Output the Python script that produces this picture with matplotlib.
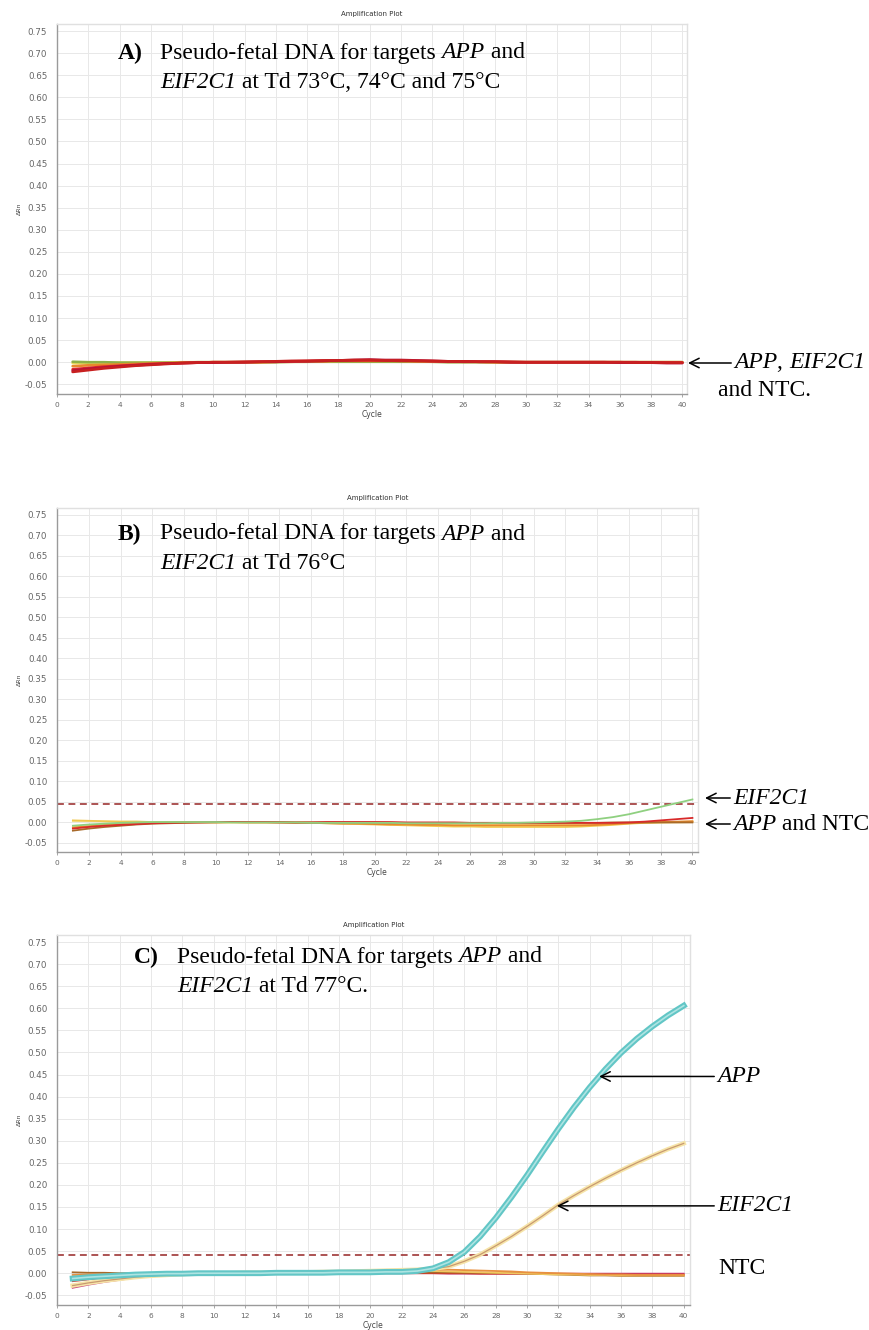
import numpy as np
import matplotlib
matplotlib.use("Agg")
import matplotlib.pyplot as plt

plt.rcParams["font.family"] = ["Liberation Serif", "DejaVu Serif"]

# qPCR amplification data, delta Rn per cycle (cycles 1..40)
CYCLES = list(range(1, 41))

# A) Td 73/74/75 C - nothing amplifies
a_dark_red = [-0.022, -0.018, -0.014, -0.011, -0.008, -0.006, -0.004, -0.002, -0.001, 0.000,
              0.000, 0.001, 0.001, 0.002, 0.003, 0.003, 0.004, 0.004, 0.005, 0.005,
              0.004, 0.004, 0.003, 0.003, 0.002, 0.002, 0.001, 0.001, 0.001, 0.000,
              0.000, 0.000, 0.000, 0.000, 0.000, 0.000, -0.001, -0.001, -0.001, -0.001]
a_red = [-0.016, -0.013, -0.010, -0.008, -0.006, -0.004, -0.003, -0.002, -0.001, 0.000,
         0.000, 0.000, 0.001, 0.001, 0.002, 0.003, 0.003, 0.004, 0.004, 0.004,
         0.004, 0.003, 0.003, 0.002, 0.002, 0.001, 0.001, 0.001, 0.000, 0.000,
         0.000, 0.000, 0.000, 0.000, 0.000, 0.000, 0.000, -0.001, -0.001, -0.001]
a_crimson = [-0.019, -0.015, -0.012, -0.009, -0.007, -0.005, -0.003, -0.002, -0.001, -0.001,
             0.000, 0.000, 0.001, 0.001, 0.002, 0.002, 0.003, 0.004, 0.005, 0.006,
             0.005, 0.005, 0.004, 0.003, 0.002, 0.002, 0.001, 0.001, 0.000, 0.000,
             0.000, 0.000, 0.000, 0.000, 0.000, -0.001, -0.001, -0.001, -0.002, -0.002]
a_yellow = [-0.002, -0.002, -0.002, -0.001, -0.001, -0.001, -0.001, 0.000, 0.000, 0.000,
            0.000, 0.000, 0.000, 0.001, 0.001, 0.001, 0.002, 0.002, 0.002, 0.002,
            0.002, 0.002, 0.002, 0.001, 0.001, 0.001, 0.001, 0.000, 0.000, 0.000,
            0.000, 0.000, 0.000, 0.000, 0.000, 0.000, 0.000, 0.000, 0.000, 0.000]
a_green = [0.001, 0.000, 0.000, -0.001, -0.001, -0.001, -0.001, -0.001, 0.000, 0.000,
           0.000, 0.000, 0.000, 0.000, 0.001, 0.001, 0.001, 0.001, 0.001, 0.001,
           0.001, 0.001, 0.001, 0.001, 0.000, 0.000, 0.000, 0.000, 0.000, 0.000,
           0.000, 0.000, 0.000, 0.000, 0.000, 0.000, 0.000, 0.000, 0.000, 0.000]
a_orange = [-0.009, -0.007, -0.006, -0.005, -0.004, -0.003, -0.002, -0.001, -0.001, 0.000,
            0.000, 0.000, 0.000, 0.001, 0.001, 0.002, 0.002, 0.003, 0.003, 0.003,
            0.003, 0.003, 0.002, 0.002, 0.001, 0.001, 0.001, 0.000, 0.000, 0.000,
            0.000, 0.000, 0.000, 0.000, 0.000, 0.000, 0.000, 0.000, 0.000, 0.000]

# B) Td 76 C - EIF2C1 only starts to come up late
b_green = [-0.008, -0.005, -0.003, -0.001, 0.000, 0.001, 0.001, 0.001, 0.001, 0.001,
           0.000, 0.000, 0.000, 0.000, 0.000, -0.001, -0.001, -0.001, -0.001, -0.001,
           -0.001, -0.002, -0.002, -0.002, -0.002, -0.002, -0.002, -0.001, -0.001, 0.000,
           0.001, 0.002, 0.004, 0.008, 0.013, 0.020, 0.029, 0.038, 0.047, 0.056]
b_yellow = [0.005, 0.004, 0.003, 0.002, 0.002, 0.001, 0.001, 0.001, 0.000, 0.000,
            0.000, 0.000, 0.000, 0.000, 0.000, -0.001, -0.002, -0.003, -0.004, -0.005,
            -0.006, -0.007, -0.008, -0.009, -0.010, -0.010, -0.011, -0.011, -0.011, -0.011,
            -0.011, -0.011, -0.010, -0.008, -0.006, -0.003, -0.001, 0.000, 0.001, 0.002]
b_orange = [-0.012, -0.009, -0.006, -0.004, -0.002, -0.001, 0.000, 0.000, 0.001, 0.001,
            0.001, 0.000, 0.000, 0.000, -0.001, -0.001, -0.002, -0.003, -0.003, -0.004,
            -0.005, -0.005, -0.006, -0.006, -0.007, -0.007, -0.007, -0.007, -0.007, -0.007,
            -0.007, -0.007, -0.007, -0.006, -0.004, -0.002, 0.000, 0.001, 0.002, 0.003]
b_red = [-0.015, -0.011, -0.008, -0.006, -0.004, -0.002, -0.001, 0.000, 0.000, 0.001,
         0.001, 0.001, 0.001, 0.000, 0.000, 0.000, 0.001, 0.001, 0.001, 0.001,
         0.001, 0.000, 0.000, 0.000, 0.000, -0.001, -0.001, -0.001, -0.001, -0.001,
         -0.001, -0.001, -0.001, -0.001, -0.001, 0.000, 0.002, 0.005, 0.008, 0.011]
b_brown = [-0.020, -0.015, -0.011, -0.008, -0.005, -0.003, -0.002, -0.001, 0.000, 0.000,
           0.001, 0.001, 0.001, 0.001, 0.000, 0.000, 0.000, 0.000, 0.000, 0.000,
           -0.001, -0.001, -0.001, -0.001, -0.001, -0.001, -0.001, -0.001, -0.001, -0.001,
           -0.001, -0.001, -0.001, -0.001, 0.000, 0.000, 0.000, 0.000, 0.000, 0.000]
b_pale = [0.003, 0.003, 0.002, 0.002, 0.002, 0.001, 0.001, 0.001, 0.001, 0.000,
          0.000, 0.000, 0.000, 0.000, 0.000, 0.000, 0.000, -0.001, -0.001, -0.002,
          -0.002, -0.003, -0.003, -0.004, -0.004, -0.005, -0.005, -0.005, -0.005, -0.005,
          -0.005, -0.005, -0.005, -0.004, -0.003, -0.002, -0.001, 0.000, 0.000, 0.001]

# C) Td 77 C - both targets amplify
c_app = [-0.012, -0.009, -0.007, -0.005, -0.003, -0.002, -0.001, -0.001, 0.000, 0.000,
         0.000, 0.000, 0.000, 0.001, 0.001, 0.001, 0.001, 0.002, 0.002, 0.002,
         0.003, 0.003, 0.005, 0.011, 0.025, 0.048, 0.083, 0.125, 0.172, 0.222,
         0.275, 0.327, 0.376, 0.421, 0.462, 0.499, 0.531, 0.559, 0.584, 0.606]
c_eif = [-0.028, -0.022, -0.017, -0.013, -0.009, -0.006, -0.004, -0.002, -0.001, 0.000,
         0.000, 0.001, 0.001, 0.001, 0.002, 0.002, 0.003, 0.003, 0.004, 0.005,
         0.006, 0.007, 0.008, 0.010, 0.015, 0.027, 0.042, 0.062, 0.083, 0.106,
         0.130, 0.155, 0.176, 0.196, 0.215, 0.233, 0.250, 0.266, 0.281, 0.294]
c_ntc_orange = [-0.004, -0.003, -0.003, -0.002, -0.002, -0.001, -0.001, 0.000, 0.000, 0.000,
                0.000, 0.001, 0.001, 0.001, 0.002, 0.002, 0.003, 0.003, 0.004, 0.005,
                0.006, 0.007, 0.008, 0.008, 0.008, 0.007, 0.006, 0.005, 0.004, 0.002,
                0.001, 0.000, -0.001, -0.002, -0.003, -0.003, -0.004, -0.004, -0.004, -0.004]
c_ntc_brown = [0.002, 0.001, 0.001, 0.000, 0.000, 0.000, 0.000, 0.000, 0.000, 0.000,
               0.000, 0.000, 0.001, 0.001, 0.001, 0.001, 0.001, 0.001, 0.001, 0.002,
               0.002, 0.002, 0.002, 0.002, 0.002, 0.001, 0.001, 0.000, 0.000, -0.001,
               -0.002, -0.003, -0.004, -0.005, -0.005, -0.006, -0.006, -0.006, -0.006, -0.006]
c_ntc_red = [-0.018, -0.014, -0.010, -0.007, -0.005, -0.003, -0.002, -0.001, 0.000, 0.000,
             0.000, 0.001, 0.001, 0.001, 0.001, 0.001, 0.001, 0.001, 0.000, 0.000,
             0.000, 0.000, 0.000, 0.000, 0.000, 0.000, -0.001, -0.001, -0.001, -0.001,
             -0.002, -0.002, -0.002, -0.003, -0.003, -0.003, -0.003, -0.003, -0.003, -0.003]
c_ntc_magenta = [-0.033, -0.026, -0.020, -0.015, -0.010, -0.007, -0.005, -0.003, -0.002, -0.001,
                 0.000, 0.000, 0.000, 0.000, 0.000, 0.000, 0.000, 0.000, 0.000, 0.000,
                 0.000, 0.000, 0.000, 0.000, -0.001, -0.001, -0.001, -0.001, -0.001, -0.001,
                 -0.001, -0.001, -0.001, -0.001, -0.001, -0.001, -0.001, -0.001, -0.001, -0.001]
c_ntc_yellow = [-0.010, -0.008, -0.006, -0.004, -0.003, -0.002, -0.001, -0.001, 0.000, 0.000,
                0.000, 0.000, 0.001, 0.001, 0.001, 0.002, 0.002, 0.003, 0.003, 0.004,
                0.004, 0.005, 0.005, 0.005, 0.004, 0.003, 0.002, 0.001, 0.000, -0.001,
                -0.002, -0.003, -0.003, -0.004, -0.004, -0.005, -0.005, -0.005, -0.005, -0.005]

THRESHOLD_B = 0.045
THRESHOLD_C = 0.041

Y_TICKS = [round(-0.05 + 0.05 * i, 2) for i in range(17)]
X_TICKS = list(range(0, 41, 2))

W, H = 870, 1330
FS = 17


def px(x, y):
    # figure pixel (from top-left) -> figure fraction
    return (x / W, 1 - y / H)


def style_axes(ax, xmax):
    ax.set_xlim(0, xmax)
    ax.set_ylim(-0.072, 0.766)
    ax.set_yticks(Y_TICKS)
    ax.set_yticklabels([f"{v:.2f}" for v in Y_TICKS])
    ax.set_xticks(X_TICKS)
    ax.grid(True, color="#e8e8e8", lw=0.7)
    ax.set_axisbelow(True)
    ax.tick_params(axis="y", labelsize=6.3, length=0, pad=7, labelcolor="#666666")
    ax.tick_params(axis="x", labelsize=5.3, length=2, width=0.6, color="#999999",
                   pad=4, labelcolor="#666666")
    for lab in ax.get_xticklabels() + ax.get_yticklabels():
        lab.set_family("DejaVu Sans")
    for s in ["left", "bottom"]:
        ax.spines[s].set_color("#9a9a9a")
        ax.spines[s].set_linewidth(1.0)
    for s in ["top", "right"]:
        ax.spines[s].set_color("#e0e0e0")
        ax.spines[s].set_linewidth(1.0)
    ax.set_title("Amplification Plot", fontsize=5, family="DejaVu Sans",
                 color="#333333", pad=6)
    ax.set_xlabel("Cycle", fontsize=5.5, family="DejaVu Sans", color="#444444",
                  labelpad=1)
    ax.set_ylabel("ΔRn", fontsize=4.5, family="DejaVu Sans", color="#444444",
                  labelpad=2)


def write_runs(ax, x, y, parts, arrow_to=None):
    """Write text runs (string, style) one after another from a figure point.
    If arrow_to is given, an arrow runs from the first run to that point."""
    first, style = parts[0]
    kw = dict(fontsize=FS, style=style, va="center", ha="left",
              annotation_clip=False)
    if arrow_to is not None:
        xy, coords = arrow_to
        t = ax.annotate(first, xy=xy, xycoords=coords, xytext=(x, y),
                        textcoords="figure fraction", arrowprops=ARROW, **kw)
    else:
        t = ax.annotate(first, xy=(x, y), xycoords="figure fraction", **kw)
    prev = t
    for s, st in parts[1:]:
        prev = ax.annotate(s, xy=(1, 0), xycoords=prev, fontsize=FS, style=st,
                           va="bottom", ha="left", annotation_clip=False)
    return t


ARROW = dict(arrowstyle="->", color="black", lw=1.1, shrinkA=0, shrinkB=0,
             mutation_scale=17)

fig = plt.figure(figsize=(8.7, 13.3), dpi=100)
ax_a = fig.add_axes([57 / W, 1 - 394 / H, 630 / W, 370 / H])
ax_b = fig.add_axes([57 / W, 1 - 852 / H, 641 / W, 344 / H])
ax_c = fig.add_axes([57 / W, 1 - 1305 / H, 633 / W, 370 / H])

style_axes(ax_a, 40.3)
style_axes(ax_b, 40.35)
style_axes(ax_c, 40.4)

# panel A
for ys, col in [(a_yellow, "#eedc5a"), (a_green, "#8db048"), (a_orange, "#e8892c"),
                (a_red, "#e02828"), (a_crimson, "#b5123a"), (a_dark_red, "#c82020")]:
    ax_a.plot(CYCLES, ys, color=col, lw=1.9, solid_capstyle="round")

# panel B
ax_b.axhline(THRESHOLD_B, color="#962424", lw=1.1, ls=(0, (4.5, 3)))
for ys, col in [(b_pale, "#f4e49a"), (b_yellow, "#f0c850"), (b_orange, "#e8892c"),
                (b_brown, "#a86a2a"), (b_red, "#d82a2a")]:
    ax_b.plot(CYCLES, ys, color=col, lw=1.3)
ax_b.plot(CYCLES, b_green, color="#8fd080", lw=1.3)

# panel C
ax_c.axhline(THRESHOLD_C, color="#962424", lw=1.1, ls=(0, (4.5, 3)))
for ys, col in [(c_ntc_magenta, "#c8407a"), (c_ntc_red, "#d03a2a"),
                (c_ntc_brown, "#a86a2a"), (c_ntc_yellow, "#f0c860"),
                (c_ntc_orange, "#e89040")]:
    ax_c.plot(CYCLES, ys, color=col, lw=1.3)
ax_c.plot(CYCLES, c_eif, color="#f6e4a8", lw=3.2)
ax_c.plot(CYCLES, c_eif, color="#c89a70", lw=0.9)
ax_c.plot(CYCLES, c_app, color="#62c6c6", lw=4.2)
ax_c.plot(CYCLES, c_app, color="#aee4e2", lw=1.2)

# panel captions
captions = [
    (ax_a, "A)", 118, 53, "at Td 73°C, 74°C and 75°C", 160),
    (ax_b, "B)", 118, 534, "at Td 76°C", 160),
    (ax_c, "C)", 134, 957, "at Td 77°C.", 177),
]
for ax, tag, tx, ty, tail, bx in captions:
    fig.text(*px(tx, ty), tag, fontsize=FS, weight="bold", va="center", ha="left")
    write_runs(ax, *px(bx, ty), [("Pseudo-fetal DNA for targets ", "normal"),
                                 ("APP", "italic"), (" and", "normal")])
    write_runs(ax, *px(bx, ty + 30), [("EIF2C1", "italic"), (" " + tail, "normal")])

# panel A labels
write_runs(ax_a, *px(734, 363), [("APP", "italic"), (", ", "normal"), ("EIF2C1", "italic")],
           arrow_to=(px(688, 363), "figure fraction"))
fig.text(*px(718, 391), "and NTC.", fontsize=FS, va="center", ha="left")

# panel B labels
write_runs(ax_b, *px(733, 798), [("EIF2C1", "italic")],
           arrow_to=(px(705, 798), "figure fraction"))
write_runs(ax_b, *px(733, 824), [("APP", "italic"), (" and NTC", "normal")],
           arrow_to=(px(705, 824), "figure fraction"))

# panel C labels point at the curves themselves
app_x, eif_x = 34.6, 31.9
app_y = np.interp(app_x, CYCLES, c_app)
eif_y = np.interp(eif_x, CYCLES, c_eif)
for name, cx, cy in [("APP", app_x, app_y), ("EIF2C1", eif_x, eif_y)]:
    ax_c.annotate(name, xy=(cx, cy), xytext=(717 / W, cy),
                  textcoords=("figure fraction", "data"), fontsize=FS,
                  style="italic", va="center", ha="left", arrowprops=ARROW,
                  annotation_clip=False)
fig.text(*px(718, 1268), "NTC", fontsize=FS, va="center", ha="left")

fig.savefig("out.png", dpi=100, facecolor="white")
